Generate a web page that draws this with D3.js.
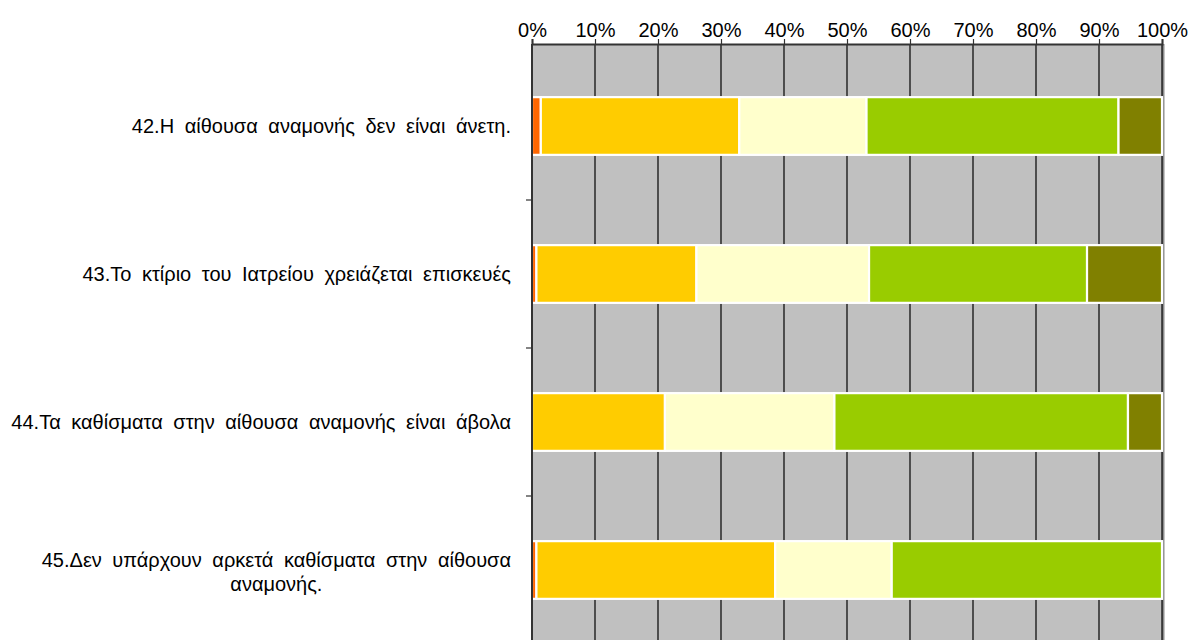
<!DOCTYPE html>
<html>
<head>
<meta charset="utf-8">
<script src="https://cdn.jsdelivr.net/npm/d3@7"></script>
<style>
  html, body { margin: 0; padding: 0; background: #fff; }
  svg { display: block; font-family: "Liberation Sans", Arial, sans-serif; }
</style>
</head>
<body>
<svg id="chart" width="1192" height="640"></svg>
<script>
// Survey statements (one stacked bar each)
const categories = [
  "42.Η αίθουσα αναμονής δεν είναι άνετη.",
  "43.Το κτίριο του Ιατρείου χρειάζεται επισκευές",
  "44.Τα καθίσματα στην αίθουσα αναμονής είναι άβολα",
  "45.Δεν υπάρχουν αρκετά καθίσματα στην αίθουσα|αναμονής."
];

// Response shares (%) per answer level, one value per statement
const level1 = [1.4, 0.7, 0.0, 0.7];
const level2 = [31.5, 25.4, 21.1, 37.9];
const level3 = [20.2, 27.4, 26.9, 18.5];
const level4 = [40.0, 34.6, 46.6, 42.9];
const level5 = [6.9, 11.9, 5.4, 0.0];

const seriesValues = [level1, level2, level3, level4, level5];
const seriesColors = ["#FF6600", "#FFCC00", "#FFFFCC", "#99CC00", "#808000"];

const tickValues = [0, 10, 20, 30, 40, 50, 60, 70, 80, 90, 100];

const svg = d3.select("#chart");
const plotLeft = 532, plotRight = 1162, plotTop = 44, bandTop = 52, bandStep = 148;
const plotBottom = bandTop + bandStep * categories.length;

const x = d3.scaleLinear().domain([0, 100]).range([plotLeft, plotRight]);
const y = d3.scaleBand()
  .domain(d3.range(categories.length))
  .range([bandTop, plotBottom])
  .paddingInner(0.61)
  .paddingOuter(0.305);

// stacked rows
const rows = categories.map((c, i) => {
  const r = { idx: i };
  seriesValues.forEach((s, k) => { r["s" + k] = s[i]; });
  return r;
});
const stack = d3.stack().keys(seriesValues.map((_, k) => "s" + k));
const stacked = stack(rows);

// plot background
svg.append("rect")
  .attr("x", plotLeft).attr("y", plotTop)
  .attr("width", plotRight - plotLeft).attr("height", plotBottom - plotTop)
  .attr("fill", "#C0C0C0");

// right edge shadow
svg.append("rect")
  .attr("x", plotRight).attr("y", plotTop)
  .attr("width", 2.5).attr("height", plotBottom - plotTop)
  .attr("fill", "#8C8C8C");

// vertical gridlines
svg.append("g")
  .selectAll("line")
  .data(tickValues.slice(1))
  .join("line")
  .attr("x1", d => x(d)).attr("x2", d => x(d))
  .attr("y1", plotTop).attr("y2", plotBottom)
  .attr("stroke", "#000").attr("stroke-width", 1.2);

// bars
svg.append("g")
  .selectAll("g")
  .data(stacked)
  .join("g")
  .attr("fill", (d, k) => seriesColors[k])
  .selectAll("rect")
  .data(d => d.filter(p => p[1] - p[0] > 0))
  .join("rect")
  .attr("x", p => x(p[0]))
  .attr("y", p => y(p.data.idx))
  .attr("width", p => x(p[1]) - x(p[0]))
  .attr("height", y.bandwidth())
  .attr("stroke", "#fff")
  .attr("stroke-width", 2.2);

// top percentage axis
const xAxis = d3.axisTop(x)
  .tickValues(tickValues)
  .tickFormat(d => d + "%")
  .tickSize(5)
  .tickPadding(2);
const gx = svg.append("g")
  .attr("transform", `translate(0,${plotTop})`)
  .call(xAxis);
gx.select(".domain").attr("stroke", "#333").attr("stroke-width", 2);
gx.selectAll(".tick line").attr("stroke", "#333").attr("stroke-width", 1.2);
gx.selectAll(".tick text")
  .attr("fill", "#000")
  .style("font-size", "20px")
  .style("font-family", "'Liberation Sans', Arial, sans-serif");

// left category axis (ticks at band boundaries)
const boundaries = d3.range(1, categories.length + 1).map(i => bandTop + i * bandStep);
svg.append("line")
  .attr("x1", plotLeft).attr("x2", plotLeft)
  .attr("y1", plotTop).attr("y2", plotBottom)
  .attr("stroke", "#333").attr("stroke-width", 2);
svg.append("g")
  .selectAll("line")
  .data(boundaries)
  .join("line")
  .attr("x1", plotLeft - 6).attr("x2", plotLeft)
  .attr("y1", d => d).attr("y2", d => d)
  .attr("stroke", "#333").attr("stroke-width", 1.2);

// category labels: multi-line blocks, centred within a block that is right-aligned
const labelRight = 511, lineH = 24;
categories.forEach((c, i) => {
  const lines = c.split("|");
  const cy = y(i) + y.bandwidth() / 2 + (lines.length > 1 ? 2 : 0);
  const g = svg.append("g");
  const texts = lines.map((ln, j) => g.append("text")
    .attr("y", cy + (j - (lines.length - 1) / 2) * lineH)
    .attr("dy", "0.36em")
    .attr("fill", "#000")
    .style("font-size", "20px")
    .style("word-spacing", "5px")
    .text(ln));
  const w = d3.max(texts, t => t.node().getComputedTextLength());
  texts.forEach(t => t.attr("x", labelRight - w / 2).attr("text-anchor", "middle"));
});
</script>
</body>
</html>
